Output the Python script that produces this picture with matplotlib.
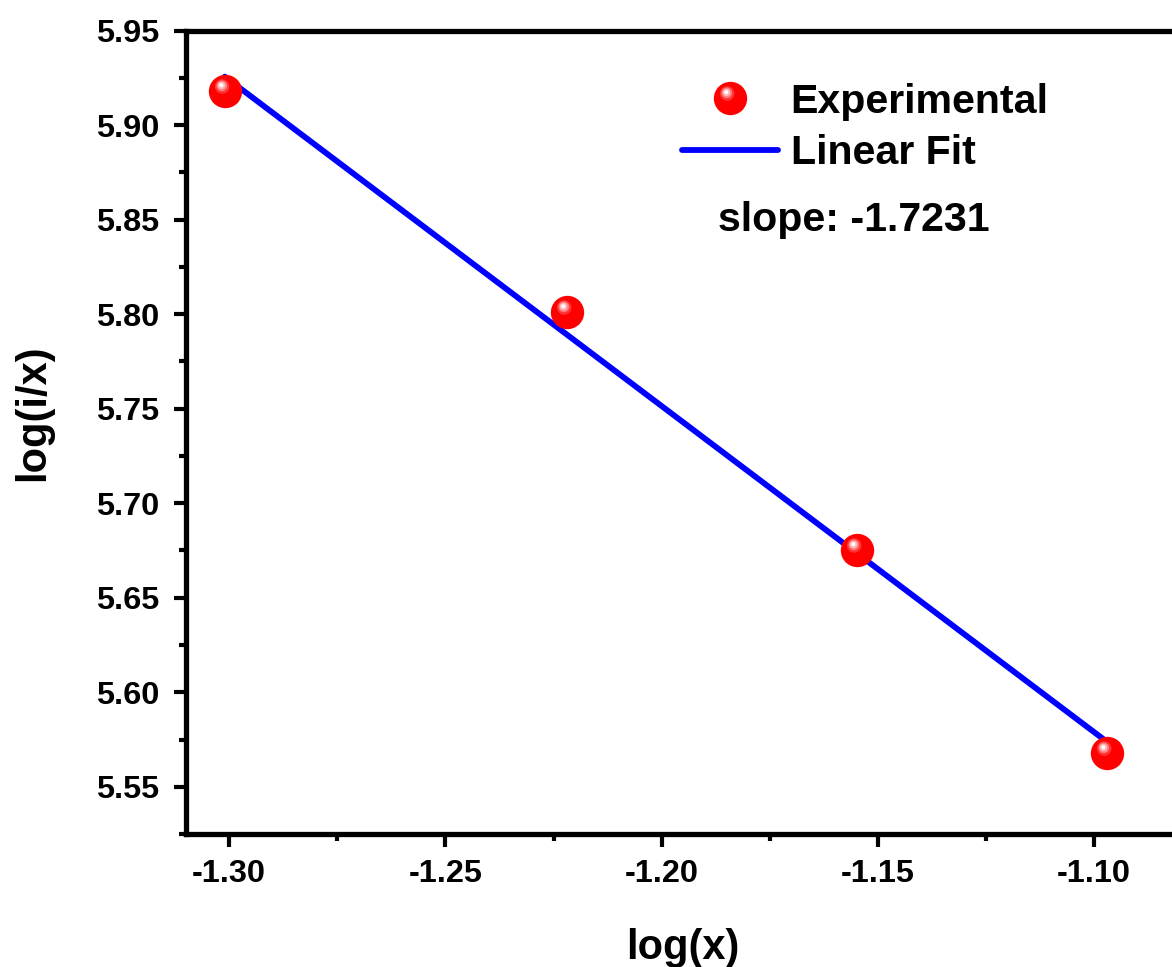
import numpy as np
import matplotlib
matplotlib.use("Agg")
import matplotlib.pyplot as plt
from matplotlib.path import Path
from matplotlib.markers import MarkerStyle
from matplotlib.ticker import MultipleLocator, AutoMinorLocator
from matplotlib.legend_handler import HandlerTuple

# data
log_x = [-1.30103, -1.22185, -1.15490, -1.09691]
log_ix = [5.918, 5.801, 5.675, 5.568]
slope_text = "slope: -1.7231"

plt.rcParams['font.family'] = ['Liberation Sans', 'DejaVu Sans']
plt.rcParams['font.weight'] = 'bold'
plt.rcParams['axes.labelweight'] = 'bold'


def ball(radius, cx=0.0, cy=0.0):
    # circle marker path, padded with two anchor points so it is not rescaled
    circ = Path.circle((cx, cy), radius)
    verts = np.vstack([[[0.5, 0.5], [-0.5, -0.5]], circ.vertices])
    codes = np.concatenate([[Path.MOVETO, Path.MOVETO], circ.codes])
    return MarkerStyle(Path(verts, codes))


fig = plt.figure(figsize=(11.72, 9.67), dpi=100)
ax = fig.add_axes([0.1587, 0.1375, 0.8486, 0.8308])

# shaded sphere markers: red body plus a few highlight layers
layers = [
    (0.5, 0.0, 0.0, '#ff0000'),
    (0.22, -0.10, 0.15, '#ff3333'),
    (0.16, -0.11, 0.17, '#ff8080'),
    (0.11, -0.12, 0.18, '#ffbbbb'),
    (0.06, -0.125, 0.19, '#ffffff'),
]
ms = 24
handles = []
for r, cx, cy, col in layers:
    h, = ax.plot(log_x, log_ix, linestyle='none', marker=ball(r, cx, cy),
                 markersize=ms, markerfacecolor=col, markeredgewidth=0,
                 zorder=3)
    handles.append(h)

k, b = np.polyfit(log_x, log_ix, 1)
xf = np.array([log_x[0], log_x[-1]])
fit, = ax.plot(xf, k * xf + b, color='#0000ff', lw=4.2,
               solid_capstyle='round', zorder=2)

ax.set_xlim(-1.31, -1.08)
ax.set_ylim(5.525, 5.95)
ax.xaxis.set_major_locator(MultipleLocator(0.05))
ax.yaxis.set_major_locator(MultipleLocator(0.05))
ax.xaxis.set_minor_locator(AutoMinorLocator(2))
ax.yaxis.set_minor_locator(AutoMinorLocator(2))
ax.xaxis.set_major_formatter(plt.FormatStrFormatter('%.2f'))
ax.yaxis.set_major_formatter(plt.FormatStrFormatter('%.2f'))

for s in ax.spines.values():
    s.set_linewidth(3.8)
ax.tick_params(which='major', direction='out', length=9, width=3,
               labelsize=23.4)
ax.tick_params(which='minor', direction='out', length=5, width=3)
ax.tick_params(axis='x', pad=9)
ax.tick_params(axis='y', pad=10)

ax.set_xlabel('log(x)', fontsize=30, labelpad=28)
ax.set_ylabel('log(i/x)', fontsize=30)
ax.yaxis.set_label_coords(-0.134, 0.525)

ax.legend([tuple(handles), fit], ['Experimental', 'Linear Fit'],
          handler_map={tuple: HandlerTuple(ndivide=1)},
          loc='upper left', bbox_to_anchor=(0.4987, 0.935),
          frameon=False, fontsize=29.6, handlelength=2.34,
          handletextpad=0.3, labelspacing=0.32, borderpad=0,
          borderaxespad=0)

ax.text(0.535, 0.751, slope_text, transform=ax.transAxes, fontsize=29.6,
        fontweight='bold', ha='left', va='baseline')

fig.savefig('out.png', dpi=100)
